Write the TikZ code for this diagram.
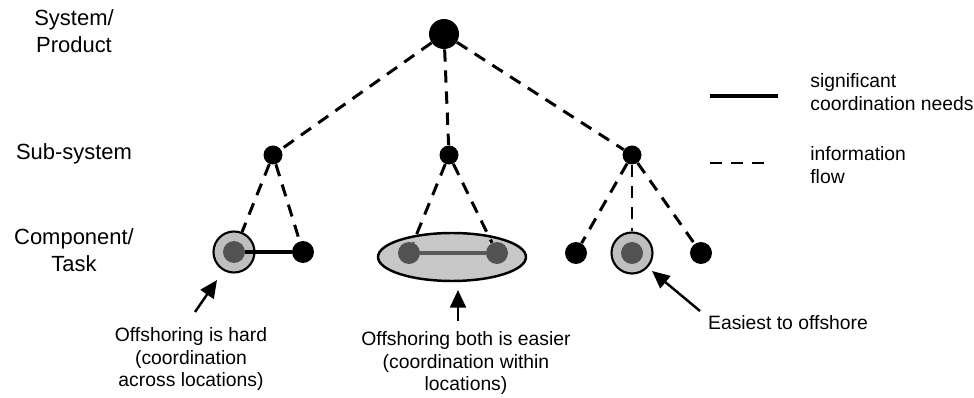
\documentclass[tikz,border=0pt]{standalone}
\usepackage{fontspec}
\setmainfont{Liberation Sans}
\usetikzlibrary{arrows.meta,shapes.geometric}
\tikzset{
  dot/.style   ={circle,fill=black,inner sep=0pt,minimum size=4.4mm},
  topdot/.style={dot,minimum size=6mm},
  subdot/.style={dot,minimum size=3.8mm},
  gdot/.style  ={circle,fill=black!68,inner sep=0pt,minimum size=4.4mm},
  halo/.style  ={circle,draw,line width=1.2pt,fill=black!25,inner sep=0pt,minimum size=8.2mm},
  oval/.style  ={ellipse,draw,line width=1.4pt,fill=black!22,inner sep=0pt,
                 minimum width=29.6mm,minimum height=9.6mm},
  flow/.style  ={dash pattern=on 7pt off 5pt,line width=1.7pt},
  need/.style  ={line width=1.8pt},
  ar/.style    ={-{Triangle[length=10pt,width=9pt]},line width=1.4pt},
  lvl/.style   ={font=\fontsize{12.5}{15}\selectfont,align=center},
  txt/.style   ={font=\fontsize{11}{12.8}\selectfont,align=center},
}

\begin{document}
\begin{tikzpicture}[x=0.02cm,y=-0.02cm]
  \useasboundingbox (0,0) rectangle (974,398);

  % level names
  \node[lvl] (lvSys) at (74,31) {System/\\Product};
  \node[lvl] (lvSub) at (74,154) {Sub-system};
  \node[lvl] (lvCmp) at (74,250) {Component/\\Task};

  % hierarchy
  \node[topdot] (sys) at (444,34) {};
  \node[subdot] (subL) at (273,155) {};
  \node[subdot] (subM) at (449,155) {};
  \node[subdot] (subR) at (632,155) {};

  % components: left pair split over locations
  \node[halo] (cLh) at (234,252) {};
  \node[gdot] (cL1) at (234,252) {};
  \node[dot]  (cL2) at (303,252) {};
  % middle pair kept together
  \node[oval] (cMo) at (452,257) {};
  \node[gdot] (cM1) at (409,253) {};
  \node[gdot] (cM2) at (497,253) {};
  % right triple
  \node[dot]  (cR1) at (576,253) {};
  \node[halo] (cR2h) at (632,253) {};
  \node[gdot] (cR2) at (632,253) {};
  \node[dot]  (cR3) at (701,253) {};

  % information flow
  \foreach \s in {subL,subM,subR} \draw[flow] (sys) -- (\s);
  \draw[flow] (subL) -- (cLh);
  \draw[flow] (subL) -- (cL2);
  \draw[flow] (subM) -- (cM1);
  \draw[flow] (subM) -- (cM2);
  \draw[flow] (subR) -- (cR1);
  \draw[flow] (subR) -- (cR2h);
  \draw[flow] (subR) -- (cR3);

  % coordination needs
  \draw[need] (cL1) -- (cL2);
  \draw[need,black!65] (cM1) -- (cM2);

  % legend
  \coordinate (lgA) at (710,96);
  \coordinate (lgB) at (778,96);
  \coordinate (lgC) at (710,163);
  \coordinate (lgD) at (772,163);
  \draw[need] (lgA) -- (lgB);
  \draw[flow] (lgC) -- (lgD);
  \node[txt,align=left,anchor=west,inner sep=0pt] (lgNeed) at (810,92) {significant\\coordination needs};
  \node[txt,align=left,anchor=west,inner sep=0pt] (lgFlow) at (810,165) {information\\flow};

  % remarks
  \node[txt] (noteL) at (191,359) {Offshoring is hard\\(coordination\\across locations)};
  \node[txt] (noteM) at (466,363) {Offshoring both is easier\\(coordination within\\locations)};
  \node[txt] (noteR) at (788,323) {Easiest to offshore};
  \coordinate (aL0) at (195,312); \coordinate (aL1) at (217,280);
  \coordinate (aM0) at (458,321); \coordinate (aM1) at (458,290);
  \coordinate (aR0) at (700,311); \coordinate (aR1) at (652,271);
  \draw[ar] (aL0) -- (aL1);
  \draw[ar] (aM0) -- (aM1);
  \draw[ar] (aR0) -- (aR1);
\end{tikzpicture}
\end{document}
